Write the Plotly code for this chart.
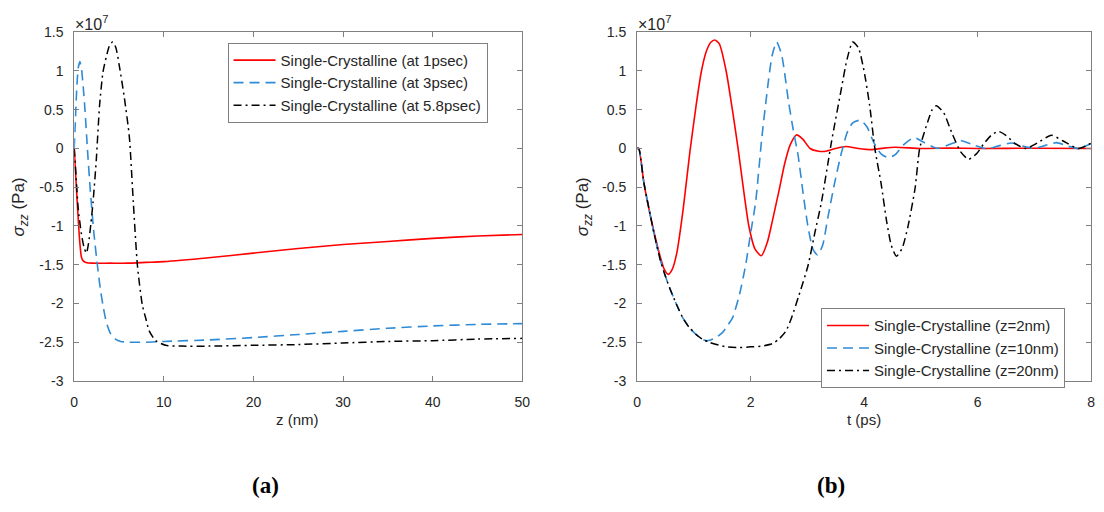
import plotly.graph_objects as go

# ---------------- Panel (a): sigma_zz vs z (nm), units 1e7 Pa ----------------
z_red = [0, 0.2, 0.4, 0.6, 0.8, 1.0, 1.3, 2, 4, 6, 8, 10, 15, 20, 25, 30, 35, 40, 45, 50]
s_red = [0, -0.42, -0.82, -1.18, -1.40, -1.45, -1.47, -1.48, -1.48, -1.48, -1.47, -1.46,
         -1.41, -1.35, -1.29, -1.24, -1.20, -1.16, -1.13, -1.11]

z_blue = [0, 0.15, 0.3, 0.45, 0.63, 0.8, 1.0, 1.2, 1.47, 1.8, 2.2, 2.58, 2.9, 3.2, 3.6,
          4.1, 4.6, 5.2, 6, 8, 10, 15, 20, 25, 30, 35, 40, 45, 50]
s_blue = [0, 0.42, 0.82, 1.04, 1.12, 1.04, 0.80, 0.50, 0.0, -0.55, -1.10, -1.50, -1.80,
          -2.02, -2.25, -2.40, -2.46, -2.49, -2.50, -2.50, -2.49, -2.47, -2.44, -2.40,
          -2.36, -2.32, -2.29, -2.27, -2.26]

z_black = [0, 0.2, 0.44, 0.8, 1.1, 1.36, 1.6, 1.85, 2.1, 2.46, 2.83, 3.2, 3.57, 3.95,
           4.3, 4.65, 5.04, 5.6, 6.15, 6.59, 7.06, 7.6, 7.98, 8.35, 9.08, 10.2, 12, 15,
           20, 25, 30, 35, 40, 45, 50]
s_black = [0, -0.35, -0.77, -1.10, -1.28, -1.35, -1.22, -0.98, -0.69, -0.15, 0.56, 0.98,
           1.18, 1.33, 1.375, 1.30, 1.06, 0.65, 0.15, -0.69, -1.52, -2.02, -2.19, -2.35,
           -2.48, -2.54, -2.55, -2.55, -2.54, -2.53, -2.51, -2.49, -2.48, -2.46, -2.45]

# ---------------- Panel (b): sigma_zz vs t (ps), units 1e7 Pa ----------------
t_red = [0, 0.03, 0.12, 0.23, 0.3, 0.41, 0.48, 0.55, 0.62, 0.7, 0.81, 0.93, 1.04, 1.13,
         1.22, 1.30, 1.37, 1.45, 1.57, 1.68, 1.78, 1.88, 1.97, 2.08, 2.19, 2.3, 2.38, 2.5,
         2.6, 2.7, 2.81, 2.92, 3.05, 3.2, 3.33, 3.5, 3.68, 3.9, 4.12, 4.35, 4.55, 5.0,
         5.5, 6, 7, 8]
s_red_t = [0, 0, -0.44, -0.85, -1.08, -1.40, -1.56, -1.625, -1.56, -1.35, -0.80, -0.05,
           0.55, 0.98, 1.25, 1.37, 1.40, 1.35, 1.00, 0.50, 0.0, -0.55, -1.00, -1.30,
           -1.385, -1.20, -0.95, -0.55, -0.20, 0.05, 0.175, 0.12, 0.0, -0.035, -0.035,
           0.0, 0.025, 0.0, -0.015, 0.005, 0.015, 0.0, 0.005, 0.0, 0.003, 0.0]

t_blue = [0, 0.03, 0.12, 0.23, 0.3, 0.41, 0.5, 0.58, 0.7, 0.81, 0.92, 1.04, 1.15, 1.22,
          1.3, 1.39, 1.5, 1.6, 1.68, 1.8, 1.91, 2.0, 2.09, 2.2, 2.32, 2.38, 2.46, 2.55,
          2.67, 2.75, 2.84, 2.93, 3.01, 3.1, 3.18, 3.27, 3.36, 3.48, 3.6, 3.7, 3.8, 3.94,
          4.05, 4.17, 4.3, 4.43, 4.55, 4.7, 4.88, 5.05, 5.3, 5.5, 5.71, 5.95, 6.17, 6.4,
          6.6, 6.8, 7.0, 7.2, 7.39, 7.6, 7.77, 7.9, 8.0]
s_blue_t = [0, 0, -0.44, -0.85, -1.10, -1.44, -1.65, -1.81, -2.02, -2.19, -2.31, -2.40,
            -2.46, -2.48, -2.47, -2.44, -2.38, -2.28, -2.19, -1.90, -1.52, -1.10, -0.69,
            0.15, 0.90, 1.20, 1.375, 1.20, 0.60, 0.25, -0.10, -0.60, -1.00, -1.30, -1.375,
            -1.25, -0.90, -0.45, -0.06, 0.20, 0.33, 0.365, 0.28, 0.08, -0.07, -0.12, -0.08,
            0.05, 0.14, 0.08, 0.0, 0.05, 0.10, 0.04, -0.005, 0.04, 0.07, 0.03, 0.0, 0.04,
            0.075, 0.03, 0.0, 0.03, 0.06]

t_black = [0, 0.03, 0.12, 0.23, 0.3, 0.41, 0.5, 0.58, 0.7, 0.81, 0.92, 1.04, 1.15, 1.27,
           1.4, 1.57, 1.8, 2.0, 2.2, 2.38, 2.5, 2.62, 2.72, 2.85, 3.01, 3.13, 3.25, 3.42,
           3.6, 3.7, 3.8, 3.9, 4.0, 4.1, 4.19, 4.3, 4.4, 4.48, 4.57, 4.67, 4.77, 4.9, 4.98,
           5.12, 5.2, 5.27, 5.4, 5.55, 5.7, 5.84, 5.98, 6.1, 6.24, 6.37, 6.5, 6.65, 6.85,
           7.05, 7.3, 7.5, 7.77, 7.9, 8.0]
s_black_t = [0, 0, -0.44, -0.85, -1.10, -1.44, -1.65, -1.81, -2.02, -2.19, -2.31, -2.40,
             -2.46, -2.50, -2.53, -2.56, -2.57, -2.56, -2.55, -2.52, -2.46, -2.36, -2.19,
             -1.90, -1.52, -1.10, -0.69, 0.06, 0.77, 1.15, 1.375, 1.30, 1.00, 0.55, 0.0,
             -0.45, -0.95, -1.25, -1.39, -1.29, -1.02, -0.51, 0.0, 0.34, 0.50, 0.55, 0.465,
             0.195, -0.04, -0.14, -0.07, 0.05, 0.17, 0.22, 0.17, 0.07, 0.0, 0.07, 0.17,
             0.10, 0.0, 0.03, 0.07]

names_a = ["Single-Crystalline (at 1psec)", "Single-Crystalline (at 3psec)",
           "Single-Crystalline (at 5.8psec)"]
names_b = ["Single-Crystalline (z=2nm)", "Single-Crystalline (z=10nm)",
           "Single-Crystalline (z=20nm)"]

x_ticks_a = [0, 10, 20, 30, 40, 50]
x_ticks_b = [0, 2, 4, 6, 8]
y_ticks = [1.5, 1, 0.5, 0, -0.5, -1, -1.5, -2, -2.5, -3]
y_ticktext = ["1.5", "1", "0.5", "0", "-0.5", "-1", "-1.5", "-2", "-2.5", "-3"]

RED = "#ff0000"
BLUE = "#2f8bd6"
BLACK = "#000000"
TXT = "#262626"
AX = "#808080"
FONT = "Liberation Sans, Arial, sans-serif"
W, H = 1104, 512

styles = [dict(color=RED, width=1.6, dash="solid"),
          dict(color=BLUE, width=1.6, dash="10px,6px"),
          dict(color=BLACK, width=1.5, dash="8px,4px,2px,4px")]

fig = go.Figure()
for (x, y), nm, st in zip([(z_red, s_red), (z_blue, s_blue), (z_black, s_black)], names_a, styles):
    fig.add_trace(go.Scatter(x=x, y=y, name=nm, mode="lines",
                             line=dict(shape="spline", smoothing=0.6, **st),
                             xaxis="x", yaxis="y", legend="legend"))
for (x, y), nm, st in zip([(t_red, s_red_t), (t_blue, s_blue_t), (t_black, s_black_t)], names_b, styles):
    fig.add_trace(go.Scatter(x=x, y=y, name=nm, mode="lines",
                             line=dict(shape="spline", smoothing=0.6, **st),
                             xaxis="x2", yaxis="y2", legend="legend2"))


def px(v):
    return v / W


def py(v):
    return 1 - v / H


ydom = [py(385), py(25)]
axis_common = dict(showline=True, linecolor=AX, linewidth=1, mirror="ticks", ticks="inside",
                   ticklen=5, tickcolor=AX, showgrid=False, zeroline=False,
                   tickfont=dict(family=FONT, size=14, color=TXT))
xstand = dict(ticklabelstandoff=8)
ystand = dict(ticklabelstandoff=7)

legend_common = dict(xanchor="left", yanchor="top", bgcolor="white", bordercolor=AX,
                     borderwidth=1, font=dict(family=FONT, size=15, color=TXT),
                     tracegroupgap=0, itemwidth=42)

fig.update_layout(
    width=W, height=H, margin=dict(l=0, r=0, t=0, b=0),
    paper_bgcolor="white", plot_bgcolor="white",
    font=dict(family=FONT, size=14, color=TXT),
    xaxis=dict(domain=[px(71), px(524)], range=[0, 50], tickvals=x_ticks_a,
               ticktext=[str(v) for v in x_ticks_a], anchor="y", **axis_common, **xstand),
    yaxis=dict(domain=ydom, range=[-3, 1.5], tickvals=y_ticks, ticktext=y_ticktext,
               anchor="x", **axis_common, **ystand),
    xaxis2=dict(domain=[px(640), px(1099)], range=[0, 8], tickvals=x_ticks_b,
                ticktext=[str(v) for v in x_ticks_b], anchor="y2", **axis_common, **xstand),
    yaxis2=dict(domain=ydom, range=[-3, 1.5], tickvals=y_ticks, ticktext=y_ticktext,
                anchor="x2", **axis_common, **ystand),
    legend=dict(x=px(226), y=py(36), **legend_common),
    legend2=dict(x=px(826), y=py(310), **legend_common),
    showlegend=True,
)

ann = []
for x0, lab, cx in [(71, "z (nm)", 297), (640, "t (ps)", 869)]:
    ann.append(dict(text=lab, x=px(cx), y=py(425), xref="paper", yref="paper",
                    xanchor="center", yanchor="middle", showarrow=False,
                    font=dict(family=FONT, size=15, color=TXT)))
    ann.append(dict(text="×10<sup>7</sup>", x=px(x0 - 1), y=py(15), xref="paper", yref="paper",
                    xanchor="left", yanchor="middle", showarrow=False,
                    font=dict(family=FONT, size=16, color=TXT)))
for cx in [16, 586]:
    ann.append(dict(text="<i>σ<sub>zz</sub></i> (Pa)", x=px(cx), y=py(205), xref="paper",
                    yref="paper", xanchor="center", yanchor="middle", textangle=-90,
                    showarrow=False, font=dict(family=FONT, size=17, color=TXT)))
for cx, lab in [(264, "(a)"), (836, "(b)")]:
    ann.append(dict(text="<b>" + lab + "</b>", x=px(cx), y=py(493), xref="paper", yref="paper",
                    xanchor="center", yanchor="middle", showarrow=False,
                    font=dict(family="Liberation Serif, Times New Roman, serif", size=23,
                              color="#000000")))
fig.update_layout(annotations=ann)

fig.write_html("out.html")
